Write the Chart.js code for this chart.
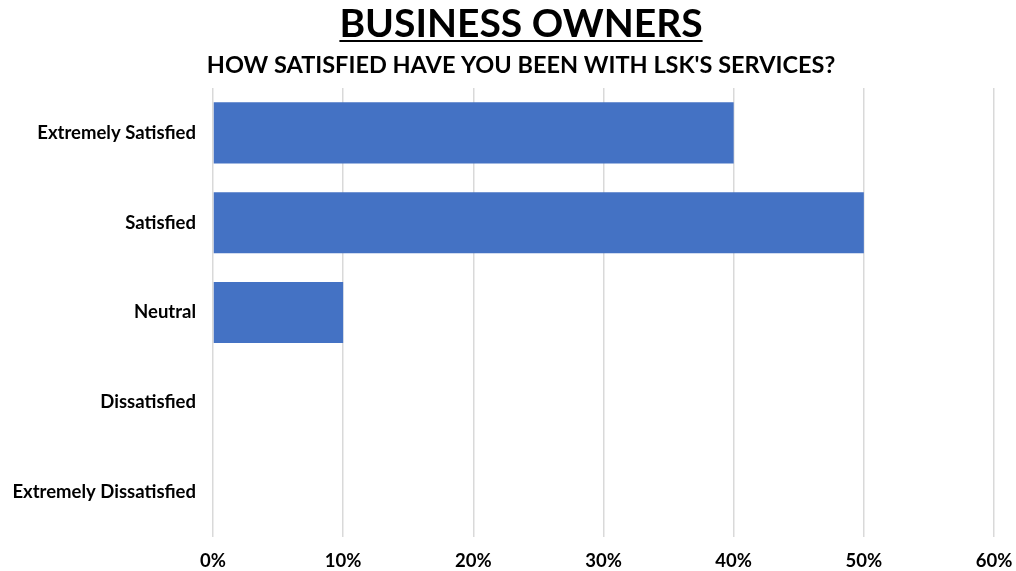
<!DOCTYPE html>
<html>
<head>
<meta charset="utf-8">
<script src="https://cdn.jsdelivr.net/npm/chart.js@4/dist/chart.umd.min.js"></script>
<style>
  html, body { margin: 0; padding: 0; background: #fff; }
  #wrap { width: 1016px; height: 571px; }
</style>
</head>
<body>
<div id="wrap"><canvas id="satisfaction"></canvas></div>
<script>
// survey answers, percent of business owners
var categories = ["Extremely Satisfied", "Satisfied", "Neutral", "Dissatisfied", "Extremely Dissatisfied"];
var percents = [40, 50, 10, 0, 0];
var tickMax = 60;
var tickStep = 10;

var fontFamily = "Lato, 'Open Sans', sans-serif";
var titleOffset = 26;

// headings sit a bit right of the canvas centre
var headingShift = {
    id: 'headingShift',
    afterLayout: function(chart) {
        chart.boxes.forEach(function(box) {
            if (box.position === 'top' && box.options && box.options.text !== undefined) {
                box.left += titleOffset;
            }
        });
    }
};

// underline under the main title
var titleUnderline = {
    id: 'titleUnderline',
    afterDraw: function(chart) {
        var t = chart.titleBlock;
        if (!t) return;
        var ctx = chart.ctx;
        var opts = chart.options.plugins.title;
        var size = opts.font.size;
        ctx.save();
        ctx.font = opts.font.weight + ' ' + size + 'px ' + opts.font.family;
        var w = ctx.measureText(opts.text).width;
        var cx = (t.left + t.right) / 2;
        var y = t.top + opts.padding.top + size * 1.2 / 2 + size * 0.36 + 2.5;
        ctx.strokeStyle = '#000';
        ctx.lineWidth = 2;
        ctx.beginPath();
        ctx.moveTo(cx - w / 2, y);
        ctx.lineTo(cx + w / 2, y);
        ctx.stroke();
        ctx.restore();
    }
};

var ctx = document.getElementById('satisfaction').getContext('2d');
var chart = new Chart(ctx, {
    type: 'bar',
    data: {
        labels: categories,
        datasets: [{
            label: 'Percent',
            data: percents,
            backgroundColor: '#4472c4',
            borderWidth: 0,
            barPercentage: 0.68,
            categoryPercentage: 1.0
        }]
    },
    options: {
        indexAxis: 'y',
        responsive: true,
        maintainAspectRatio: false,
        animation: false,
        layout: { padding: { left: 0, right: 0, top: 0, bottom: 0 } },
        plugins: {
            legend: { display: false },
            tooltip: { enabled: false },
            title: {
                display: true,
                text: 'BUSINESS OWNERS',
                color: '#000',
                font: { family: fontFamily, size: 39, weight: 'bold' },
                padding: { top: 1, bottom: 4 }
            },
            subtitle: {
                display: true,
                text: "HOW SATISFIED HAVE YOU BEEN WITH LSK'S SERVICES?",
                color: '#000',
                font: { family: fontFamily, size: 23.5, weight: 'bold' },
                padding: { top: 0, bottom: 8 }
            }
        },
        scales: {
            x: {
                min: 0,
                max: tickMax,
                grid: { color: '#d9d9d9', lineWidth: 1.5, drawTicks: false },
                border: { display: false },
                afterFit: function(scale) {
                    scale.height = 34;
                    scale.paddingLeft = 0;
                    scale.paddingRight = 22;
                },
                ticks: {
                    stepSize: tickStep,
                    color: '#000',
                    padding: 13,
                    maxRotation: 0,
                    font: { family: fontFamily, size: 18.5, weight: 'bold' },
                    callback: function(v) { return v + '%'; }
                }
            },
            y: {
                grid: { display: false, drawTicks: false },
                border: { display: false },
                afterFit: function(scale) { scale.width = 213; },
                ticks: {
                    color: '#000',
                    padding: 17,
                    font: { family: fontFamily, size: 18.5, weight: 'bold' }
                }
            }
        }
    },
    plugins: [headingShift, titleUnderline]
});
</script>
</body>
</html>
